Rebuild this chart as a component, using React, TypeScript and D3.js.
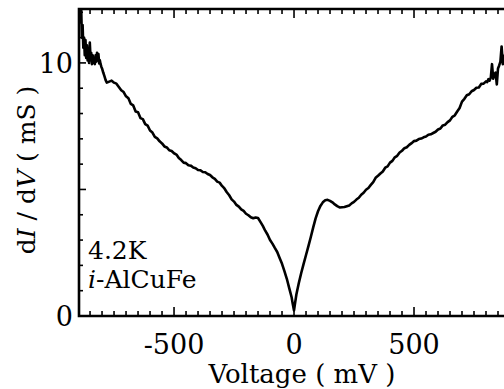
import * as d3 from "d3"

// voltage (mV) and differential conductance dI/dV (mS)
const voltage = [
  -893, -890, -887, -884, -881, -878, -875, -872, -869, -866, -863, -860, -857, -854, -851, -848, -845, -842,
  -839, -836, -833, -830, -827, -824, -821, -818, -815, -812, -809, -806, -803, -800, -795, -790, -785, -780,
  -770, -760, -750, -740, -730, -720, -710, -700, -690, -680, -670, -660, -650, -640, -630, -620, -610, -600,
  -590, -580, -570, -560, -550, -540, -530, -520, -510, -500, -490, -480, -470, -460, -450, -440, -430, -420,
  -410, -400, -390, -380, -370, -360, -350, -340, -330, -320, -310, -300, -290, -280, -270, -260, -250, -240,
  -230, -220, -210, -200, -190, -180, -170, -160, -150, -140, -130, -120, -110, -100, -90, -80, -70, -60, -50,
  -40, -30, -20, -10, -5, 0, 5, 10, 20, 30, 40, 50, 60, 70, 80, 90, 100, 110, 120, 130, 140, 150, 160, 170,
  180, 190, 200, 210, 220, 230, 240, 250, 260, 270, 280, 290, 300, 310, 320, 330, 340, 350, 360, 370, 380,
  390, 400, 410, 420, 430, 440, 450, 460, 470, 480, 490, 500, 510, 520, 530, 540, 550, 560, 570, 580, 590,
  600, 610, 620, 630, 640, 650, 660, 670, 680, 690, 700, 710, 720, 730, 740, 750, 760, 770, 780, 790, 800,
  805, 810, 815, 820, 825, 830, 835, 840, 845, 850, 855, 860, 865, 870, 875, 880, 885, 890,
]

const conductance = [
  12.4, 11.6, 12.2, 11.0, 11.5, 10.6, 11.0, 10.3, 10.9, 10.2, 10.7, 10.1, 10.5, 10.0, 10.8, 10.2, 10.4, 9.95,
  10.3, 10.0, 10.2, 9.95, 10.3, 10.05, 10.4, 10.1, 10.35, 9.98, 10.1, 9.95, 9.85, 9.78, 9.62, 9.48, 9.32, 9.22,
  9.26, 9.3, 9.22, 9.18, 9.05, 8.92, 8.85, 8.68, 8.6, 8.38, 8.32, 8.08, 8.05, 7.82, 7.78, 7.58, 7.52, 7.33,
  7.25, 7.08, 7.02, 6.9, 6.82, 6.7, 6.66, 6.55, 6.52, 6.43, 6.38, 6.24, 6.16, 6.06, 6.04, 5.96, 5.94, 5.87,
  5.84, 5.77, 5.76, 5.69, 5.68, 5.61, 5.57, 5.48, 5.42, 5.31, 5.27, 5.14, 5.04, 4.89, 4.77, 4.61, 4.52, 4.39,
  4.32, 4.21, 4.15, 4.04, 3.98, 3.9, 3.86, 3.89, 3.87, 3.72, 3.56, 3.37, 3.21, 3.0, 2.86, 2.69, 2.53, 2.29,
  2.06, 1.77, 1.47, 1.1, 0.74, 0.46, 0.22, 0.55, 0.86, 1.3, 1.7, 2.06, 2.41, 2.76, 3.12, 3.5, 3.86, 4.14,
  4.35, 4.49, 4.57, 4.59, 4.55, 4.49, 4.41, 4.34, 4.29, 4.3, 4.31, 4.34, 4.37, 4.45, 4.51, 4.6, 4.67, 4.79,
  4.87, 4.99, 5.06, 5.18, 5.29, 5.46, 5.54, 5.63, 5.71, 5.86, 5.91, 6.06, 6.13, 6.27, 6.33, 6.46, 6.53,
  6.63, 6.67, 6.76, 6.83, 6.91, 6.93, 6.99, 7.01, 7.06, 7.09, 7.16, 7.18, 7.23, 7.28, 7.37, 7.41, 7.53, 7.56,
  7.66, 7.73, 7.87, 7.93, 8.08, 8.22, 8.47, 8.58, 8.72, 8.76, 8.88, 8.93, 9.02, 9.03, 9.17, 9.18, 9.27, 9.24,
  9.36, 9.3, 9.42, 9.95, 9.38, 9.55, 9.62, 9.15, 9.78, 9.9, 10.05, 10.65, 9.95, 10.2, 10.35, 10.6, 10.9,
]

const xTicks = [-500, 0, 500]
const yTicks = [0, 10]

const W = 504
const H = 389
const left = 79
const right = 510
const top = 9
const bottom = 316
const serif = { fontFamily: "\"DejaVu Serif\", serif" }

export default function App() {
  const x = d3.scaleLinear().domain([-896, 900]).range([left, right])
  const y = d3.scaleLinear().domain([0, 12.13]).range([bottom, top])

  const pts = voltage.map((v, i) => [v, conductance[i]] as [number, number])
  const line = d3
    .line<[number, number]>()
    .x((d) => x(d[0]))
    .y((d) => y(d[1]))

  const xMinor = d3.range(-850, 900, 50)
  const yMinor = d3.range(0, 13, 1)

  return (
    <svg width={W} height={H} style={{ position: "absolute", left: 0, top: 0, background: "#fff" }}>
      <defs>
        <clipPath id="plot">
          <rect x={left} y={top} width={right - left} height={bottom - top} />
        </clipPath>
      </defs>

      {/* ticks, pointing inward on bottom and top */}
      {xMinor.map((v) => {
        const len = v % 500 === 0 ? 9 : 5
        return (
          <g key={v} stroke="#000" strokeWidth={1.6}>
            <line x1={x(v)} x2={x(v)} y1={bottom} y2={bottom - len} />
            <line x1={x(v)} x2={x(v)} y1={top} y2={top + len} />
          </g>
        )
      })}
      {yMinor.map((v) => (
        <line key={v} x1={left} x2={left + (v % 5 === 0 ? 7 : 4)} y1={y(v)} y2={y(v)} stroke="#000" strokeWidth={1.6} />
      ))}

      {/* frame */}
      <path d={`M${right},${bottom}H${left}V${top}H${right}`} fill="none" stroke="#000" strokeWidth={2.6} />

      <path d={line(pts) ?? ""} fill="none" stroke="#000" strokeWidth={2.6} strokeLinejoin="round" clipPath="url(#plot)" />

      {/* tick labels */}
      {xTicks.map((v) => (
        <text key={v} x={x(v)} y={354} textAnchor="middle" style={serif} fontSize={27}>
          {v}
        </text>
      ))}
      {yTicks.map((v) => (
        <text key={v} x={73} y={y(v) + 10} textAnchor="end" style={serif} fontSize={27}>
          {v}
        </text>
      ))}

      <text x={302} y={383} textAnchor="middle" style={serif} fontSize={26}>
        Voltage ( mV )
      </text>
      <text transform="translate(35,170) rotate(-90)" textAnchor="middle" style={serif} fontSize={25}>
        d<tspan fontStyle="italic">I</tspan> / d<tspan fontStyle="italic">V</tspan> ( mS )
      </text>

      <text x={88} y={259} style={serif} fontSize={25}>
        4.2K
      </text>
      <text x={88} y={288} style={serif} fontSize={25}>
        <tspan fontStyle="italic">i</tspan>-AlCuFe
      </text>
    </svg>
  )
}
